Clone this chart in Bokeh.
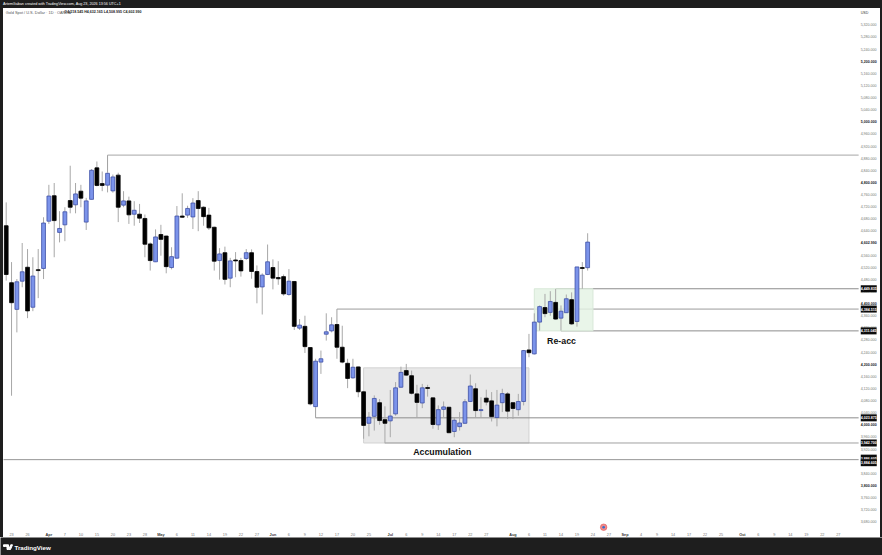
from bokeh.plotting import figure
from bokeh.layouts import column, row
from bokeh.models import Label, FixedTicker, Spacer, Div
from bokeh.core.properties import value
from bokeh.embed import file_html
from bokeh.resources import INLINE

FONT = "Liberation Sans"
DARK = "#1e1e1e"

highs = [4734,4537,4481,4600,4580,4553,4580,4685,4792,4798, 4705,4718,4855,4798,4792,4749,4844,4869,4836,4832,
         4826,4832,4771,4753,4738,4729,4694,4602,4645,4660, 4624,4586,4722,4764,4723,4748,4771,4721,4716,4654,
         4583,4588,4551,4570,4551,4580,4579,4526,4500,4595, 4546,4540,4496,4514,4474,4349,4360,4256,4218,4245,
         4368,4355,4338,4327,4218,4218,4192,4110,4042,4097, 4085,4061,4115,4141,4192,4201,4179,4132,4135,4132,
         4091,4064,4077,4059,4025,4042,4085,4166,4137,4091, 4116,4108,4115,4119,4108,4075,4102,4247,4300,4368,
         4394,4432,4441,4448,4394,4430,4437,4521,4537,4632.165]
lows = [4476,4096,4305,4454,4352,4375,4418,4481,4663,4553, 4602,4606,4698,4698,4718,4643,4744,4787,4771,4767,
        4766,4669,4718,4663,4657,4666,4553,4509,4537,4558, 4500,4513,4547,4683,4683,4646,4639,4657,4643,4509,
        4479,4463,4454,4487,4489,4544,4482,4401,4364,4494, 4447,4462,4426,4426,4313,4313,4237,4064,4058,4168,
        4278,4305,4218,4203,4121,4152,4091,3954,3962,3981, 4000,3939,3959,4030,4122,4161,4100,4023,4055,4093,
        3987,3983,4025,3972,3959,3981,4003,4075,4023,4023, 4064,4011,3995,4042,4019,4019,4030,4064,4223,4232,
        4311,4355,4360,4347,4311,4369,4330,4324,4449,4508.995]
opens = [4657,4469,4381,4474,4520,4388,4512,4516,4672,4756, 4635,4660,4740,4726,4771,4669,4744,4848,4796,4791,
         4772,4824,4725,4739,4695,4695,4681,4597,4538,4628, 4623,4519,4550,4689,4692,4686,4740,4718,4692,4652,
         4542,4568,4484,4544,4542,4549,4568,4506,4455,4496, 4519,4486,4489,4430,4473,4319,4325,4255,4060,4207,
         4299,4310,4331,4256,4203,4155,4191,4109,4005,4028, 4073,4017,4013,4036,4124,4179,4162,4102,4072,4123,
         4089,4000,4051,4058,3978,3994,4005,4077,4119,4047, 4088,4079,4024,4073,4102,4073,4050,4077,4247,4234,
         4339,4387,4371,4404,4352,4370,4413,4341,4519,4518.545]
closes = [4496,4403,4472,4505,4376,4491,4509,4666,4755,4674, 4648,4703,4718,4762,4748,4739,4840,4790,4790,4830,
          4818,4718,4739,4693,4708,4682,4596,4542,4620,4612, 4522,4555,4689,4685,4714,4732,4714,4687,4650,4540,
          4564,4480,4541,4541,4508,4568,4506,4454,4494,4538, 4484,4482,4432,4474,4325,4329,4258,4069,4210,4218,
          4307,4330,4256,4207,4153,4190,4109,3998,4025,4087, 4014,4005,4029,4122,4173,4164,4104,4074,4122,4120,
          4001,4050,4059,3974,4015,4006,4076,4128,4047,4050, 4075,4027,4065,4103,4045,4054,4077,4245,4238,4339,
          4390,4367,4407,4349,4375,4416,4333,4521,4516,4602.99]

day_ticks = [1,4,11,14,17,20,23,26,32,35,38,41,44,47,53,56,59,62,65,68,75,78,81,84,87,90,98,101,104,107,110,113,
             119,122,125,128,131,134,141,144,147,150,153,156]
day_labels = ["23","26","7","10","15","20","23","28","6","11","14","19","22","27","6","9","12","17","20","25",
              "6","9","14","17","22","27","6","11","14","19","24","27","4","9","14","17","22","25","6","9","14","19","22","27"]
month_ticks = [8,29,50,72,95,116,138]
month_labels = ["Apr","May","Jun","Jul","Aug","Sep","Oct"]

bold_prices = [5200,5000,4800,4400,4200,4000,3800]
plain_prices = [p for p in range(3680, 5321, 40) if p not in bold_prices and p != 4600]
last_price = 4602.99

level_prices = [4890, 4449, 4382, 4310, 4023, 3940, 3885]
level_starts = [19, 103, 62, 104, 58, 71, -1]
level_colors = ["#b8b8b8", "#8c8c8c", "#c6c6c6", "#8c8c8c", "#8c8c8c", "#a0a0a0", "#969696"]
level_widths = [1.3, 1, 1.8, 1, 1, 1, 1]
connector_x = [19, 62, 58]
connector_from = [4890, 4382, 4023]
connector_to = [4832, 4338, 4058]

tag_prices = [4449, 4382, 4310, 4023, 3940, 3890, 3875]
tag_texts = ["4,449.835", "4,384.515", "4,311.045", "4,023.875", "3,942.700", "3,886.605", "3,884.605"]

X0, X1 = -0.506, 163.9
Y0, Y1 = 3628.1, 5373.9
AXIS_X = 159.8
AXIS_Y = 3654.5
LABEL_X = 160.2

p = figure(width=877, height=529, x_range=(X0, X1), y_range=(Y0, Y1), tools="", toolbar_location=None,
           output_backend="svg", y_axis_location="right", min_border=0, outline_line_color=None)
p.grid.visible = False

for ax in (p.xaxis[0], p.yaxis[0]):
    ax.axis_line_color = None
    ax.major_tick_line_color = None
    ax.minor_tick_line_color = None
    ax.major_tick_out = 0
    ax.major_tick_in = 0
    ax.minor_tick_out = 0
    ax.minor_tick_in = 0
    ax.major_label_text_font = FONT
    ax.major_label_text_color = "#777777"
p.xaxis[0].fixed_location = AXIS_Y
p.xaxis[0].ticker = FixedTicker(ticks=day_ticks)
p.xaxis[0].major_label_overrides = dict(zip(day_ticks, day_labels))
p.xaxis[0].major_label_text_font_size = "3.8px"
p.xaxis[0].major_label_standoff = 3
p.yaxis[0].fixed_location = AXIS_X
p.yaxis[0].ticker = FixedTicker(ticks=plain_prices)
p.yaxis[0].major_label_overrides = {v: f"{v:,.3f}" for v in plain_prices}
p.yaxis[0].major_label_text_font_size = "3.6px"
p.yaxis[0].major_label_standoff = 2

p.quad(left=[67], right=[98], bottom=[3940], top=[4188], fill_color="#e9e9e9", line_color="#d2d2d2", line_width=1)
p.segment(x0=level_starts, x1=[AXIS_X]*len(level_starts), y0=level_prices, y1=level_prices,
          line_color=level_colors, line_width=level_widths)
p.segment(x0=connector_x, x1=connector_x, y0=connector_from, y1=connector_to, line_color="#a0a0a0", line_width=1)
p.quad(left=[99], right=[110], bottom=[4310], top=[4449], fill_color="#e3f2e3", fill_alpha=0.8,
       line_color="#d8e8d8", line_width=1)

idx = list(range(len(opens)))
up = [c >= o for o, c in zip(opens, closes)]
p.segment(x0=idx, x1=idx, y0=lows, y1=highs, line_color="#a8a8a8", line_width=1)
tops = [max(o, c) for o, c in zip(opens, closes)]
bots = [min(o, c) for o, c in zip(opens, closes)]
p.vbar(x=idx, width=0.72, top=tops, bottom=bots,
       fill_color=["#7b93ea" if u else "#000000" for u in up],
       line_color=["#3e4fa6" if u else "#000000" for u in up], line_width=0.8)

p.scatter(x=[112], y=[3662], size=6.5, marker="circle", fill_color="#f08a8a", line_color="#e05a5a", line_width=0.6)
p.scatter(x=[112], y=[3662], size=2.6, marker="circle", fill_color="#2f6fd0", line_color=None)

def lab(x, y, text, size="3.6px", color="#222222", style="normal", align="left", **kw):
    p.add_layout(Label(x=x, y=y, text=text, text_font=FONT, text_font_size=size, text_color=color,
                       text_font_style=style, text_align=align, text_baseline="middle", **kw))

for v in bold_prices:
    lab(LABEL_X, v, f"{v:,.3f}", color="#222222", style="bold")
lab(LABEL_X, last_price, f"{last_price:,.3f}", color="#222222", style="bold")
for v, t in zip(tag_prices, tag_texts):
    lab(LABEL_X, v, t, color="#ffffff", style="bold", background_fill_color="#0c0c0c", padding=(0, 2))
lab(LABEL_X, 5360, "USD", color="#333333")

for t, l in zip(month_ticks, month_labels):
    lab(t, 3636, l, size="3.8px", color="#333333", style="bold", align="center")

lab(81.75, 3909, "Accumulation", size="8.8px", color="#111111", style="bold", align="center")
lab(104.1, 4278, "Re-acc", size="8.8px", color="#111111", style="bold", align="center")

lab(-0.1, 5362, "Gold Spot / U.S. Dollar · 1D · OANDA", size="3.9px", color="#555555")
lab(10.9, 5362, "O4,518.545 H4,632.165 L4,508.995 C4,602.990", color="#222222", style="bold")

header = Div(text="ArtemGaban created with TradingView.com, Aug 23, 2026 13:56 UTC+1", width=882, height=8, margin=0,
             styles={"background-color": DARK, "color": "#ffffff", "font-size": "3.7px", "line-height": "8px",
                     "padding-left": "3px", "box-sizing": "border-box", "font-family": FONT})

footer = figure(width=882, height=18, x_range=(0, 882), y_range=(0, 18), tools="", toolbar_location=None,
                output_backend="svg", min_border=0, outline_line_color=None, background_fill_color=DARK,
                border_fill_color=DARK)
footer.axis.visible = False
footer.grid.visible = False
footer.patch(x=[3, 8, 8, 6.5, 6.5, 4.8, 4.8, 3], y=[10.7, 10.7, 6, 6, 9, 9, 9, 9], color="#ffffff")
footer.patch(x=[10.2, 12, 10, 8.2], y=[10.7, 10.7, 6, 6], color="#ffffff")
footer.text(x=[14], y=[8.3], text=["TradingView"], text_color="#ffffff", text_font=value(FONT),
            text_font_size="6.2px", text_font_style="bold", text_baseline="middle")

left_bar = Spacer(width=3, height=529, styles={"background-color": DARK})
right_bar = Spacer(width=2, height=529, styles={"background-color": DARK})

page = column(header, row(left_bar, p, right_bar), footer)
open("out.html", "w").write(file_html(page, INLINE))
